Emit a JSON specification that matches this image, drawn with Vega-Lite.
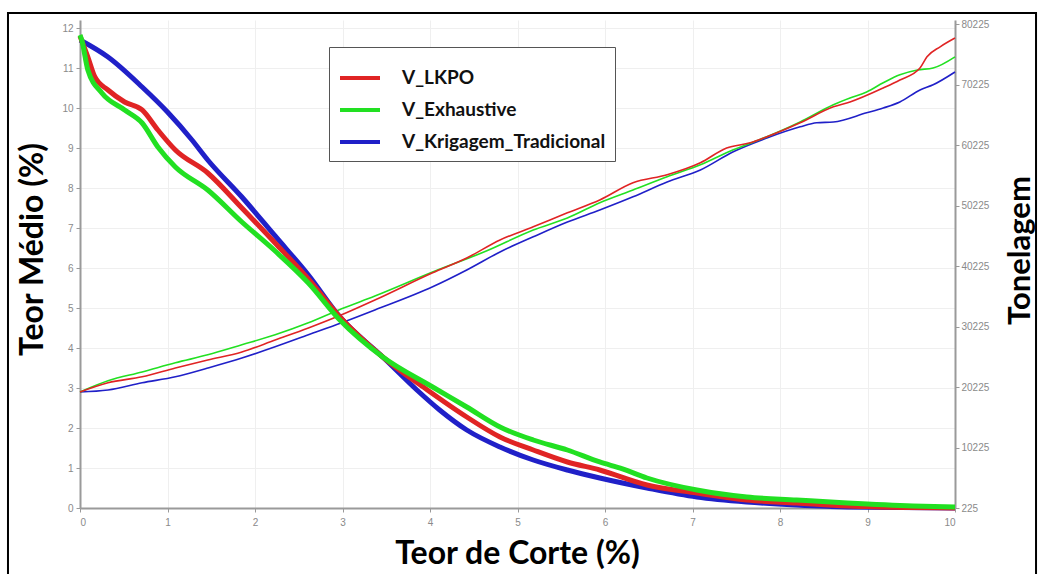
{
  "$schema": "https://vega.github.io/schema/vega-lite/v6.json",
  "width": 875,
  "height": 488,
  "autosize": {"type": "none"},
  "padding": {"left": 80, "top": 20, "right": 84, "bottom": 66},
  "background": "white",
  "config": {
    "view": {"stroke": null},
    "axis": {
      "domainColor": "#9a9a9a",
      "domainWidth": 2,
      "tickColor": "#9a9a9a",
      "tickSize": 4,
      "labelColor": "#8a8a8a",
      "labelFont": "Liberation Sans",
      "labelFontSize": 10,
      "gridColor": "#efefef",
      "gridWidth": 1,
      "titleFont": "Lato",
      "titleFontWeight": "bold",
      "titleColor": "#000000"
    },
    "legend": {
      "orient": "none",
      "legendX": 249,
      "legendY": 27,
      "strokeColor": "#555555",
      "fillColor": "white",
      "padding": 9,
      "symbolType": "stroke",
      "symbolSize": 1600,
      "symbolStrokeWidth": 4,
      "labelFont": "Lato",
      "labelFontWeight": "bold",
      "labelFontSize": 19,
      "labelColor": "#111111",
      "labelOffset": 20,
      "labelLimit": 400,
      "rowPadding": 0,
      "title": null
    }
  },
  "datasets": {
    "teor": [
      {"corte": 0, "serie": "V_Krigagem_Tradicional", "teor": 2.9},
      {"corte": 0.32, "serie": "V_Krigagem_Tradicional", "teor": 2.95},
      {"corte": 0.71, "serie": "V_Krigagem_Tradicional", "teor": 3.13},
      {"corte": 1.09, "serie": "V_Krigagem_Tradicional", "teor": 3.28},
      {"corte": 1.46, "serie": "V_Krigagem_Tradicional", "teor": 3.5},
      {"corte": 1.85, "serie": "V_Krigagem_Tradicional", "teor": 3.75},
      {"corte": 2.23, "serie": "V_Krigagem_Tradicional", "teor": 4.03},
      {"corte": 2.61, "serie": "V_Krigagem_Tradicional", "teor": 4.33},
      {"corte": 2.99, "serie": "V_Krigagem_Tradicional", "teor": 4.63},
      {"corte": 3.37, "serie": "V_Krigagem_Tradicional", "teor": 4.95},
      {"corte": 4.03, "serie": "V_Krigagem_Tradicional", "teor": 5.53},
      {"corte": 4.42, "serie": "V_Krigagem_Tradicional", "teor": 5.95},
      {"corte": 4.8, "serie": "V_Krigagem_Tradicional", "teor": 6.4},
      {"corte": 5.18, "serie": "V_Krigagem_Tradicional", "teor": 6.78},
      {"corte": 5.57, "serie": "V_Krigagem_Tradicional", "teor": 7.15},
      {"corte": 5.94, "serie": "V_Krigagem_Tradicional", "teor": 7.45},
      {"corte": 6.32, "serie": "V_Krigagem_Tradicional", "teor": 7.78},
      {"corte": 6.71, "serie": "V_Krigagem_Tradicional", "teor": 8.15},
      {"corte": 7.09, "serie": "V_Krigagem_Tradicional", "teor": 8.45},
      {"corte": 7.46, "serie": "V_Krigagem_Tradicional", "teor": 8.9},
      {"corte": 7.85, "serie": "V_Krigagem_Tradicional", "teor": 9.25},
      {"corte": 8.23, "serie": "V_Krigagem_Tradicional", "teor": 9.53},
      {"corte": 8.42, "serie": "V_Krigagem_Tradicional", "teor": 9.63},
      {"corte": 8.61, "serie": "V_Krigagem_Tradicional", "teor": 9.65},
      {"corte": 8.99, "serie": "V_Krigagem_Tradicional", "teor": 9.88},
      {"corte": 9.18, "serie": "V_Krigagem_Tradicional", "teor": 10.0},
      {"corte": 9.37, "serie": "V_Krigagem_Tradicional", "teor": 10.15},
      {"corte": 9.6, "serie": "V_Krigagem_Tradicional", "teor": 10.45},
      {"corte": 9.75, "serie": "V_Krigagem_Tradicional", "teor": 10.58},
      {"corte": 10, "serie": "V_Krigagem_Tradicional", "teor": 10.9},
      {"corte": 0, "serie": "V_Exhaustive", "teor": 2.9},
      {"corte": 0.32, "serie": "V_Exhaustive", "teor": 3.18},
      {"corte": 0.71, "serie": "V_Exhaustive", "teor": 3.4},
      {"corte": 1.09, "serie": "V_Exhaustive", "teor": 3.63},
      {"corte": 1.46, "serie": "V_Exhaustive", "teor": 3.83},
      {"corte": 1.85, "serie": "V_Exhaustive", "teor": 4.08},
      {"corte": 2.23, "serie": "V_Exhaustive", "teor": 4.33},
      {"corte": 2.61, "serie": "V_Exhaustive", "teor": 4.63},
      {"corte": 2.99, "serie": "V_Exhaustive", "teor": 4.98},
      {"corte": 3.37, "serie": "V_Exhaustive", "teor": 5.3},
      {"corte": 4.03, "serie": "V_Exhaustive", "teor": 5.9},
      {"corte": 4.65, "serie": "V_Exhaustive", "teor": 6.43},
      {"corte": 5.18, "serie": "V_Exhaustive", "teor": 6.95},
      {"corte": 5.57, "serie": "V_Exhaustive", "teor": 7.25},
      {"corte": 5.94, "serie": "V_Exhaustive", "teor": 7.63},
      {"corte": 6.32, "serie": "V_Exhaustive", "teor": 7.95},
      {"corte": 6.71, "serie": "V_Exhaustive", "teor": 8.28},
      {"corte": 7.09, "serie": "V_Exhaustive", "teor": 8.58},
      {"corte": 7.46, "serie": "V_Exhaustive", "teor": 8.95},
      {"corte": 7.85, "serie": "V_Exhaustive", "teor": 9.28},
      {"corte": 8.23, "serie": "V_Exhaustive", "teor": 9.65},
      {"corte": 8.61, "serie": "V_Exhaustive", "teor": 10.08},
      {"corte": 8.8, "serie": "V_Exhaustive", "teor": 10.25},
      {"corte": 8.99, "serie": "V_Exhaustive", "teor": 10.4},
      {"corte": 9.18, "serie": "V_Exhaustive", "teor": 10.63},
      {"corte": 9.37, "serie": "V_Exhaustive", "teor": 10.83},
      {"corte": 9.57, "serie": "V_Exhaustive", "teor": 10.95},
      {"corte": 9.75, "serie": "V_Exhaustive", "teor": 11.0},
      {"corte": 10, "serie": "V_Exhaustive", "teor": 11.28},
      {"corte": 0, "serie": "V_LKPO", "teor": 2.9},
      {"corte": 0.32, "serie": "V_LKPO", "teor": 3.13},
      {"corte": 0.71, "serie": "V_LKPO", "teor": 3.28},
      {"corte": 1.09, "serie": "V_LKPO", "teor": 3.5},
      {"corte": 1.46, "serie": "V_LKPO", "teor": 3.7},
      {"corte": 1.85, "serie": "V_LKPO", "teor": 3.9},
      {"corte": 2.23, "serie": "V_LKPO", "teor": 4.2},
      {"corte": 2.61, "serie": "V_LKPO", "teor": 4.5},
      {"corte": 2.99, "serie": "V_LKPO", "teor": 4.83},
      {"corte": 3.37, "serie": "V_LKPO", "teor": 5.2},
      {"corte": 4.03, "serie": "V_LKPO", "teor": 5.88},
      {"corte": 4.42, "serie": "V_LKPO", "teor": 6.25},
      {"corte": 4.8, "serie": "V_LKPO", "teor": 6.7},
      {"corte": 5.18, "serie": "V_LKPO", "teor": 7.03},
      {"corte": 5.57, "serie": "V_LKPO", "teor": 7.38},
      {"corte": 5.94, "serie": "V_LKPO", "teor": 7.7},
      {"corte": 6.32, "serie": "V_LKPO", "teor": 8.13},
      {"corte": 6.71, "serie": "V_LKPO", "teor": 8.33},
      {"corte": 7.09, "serie": "V_LKPO", "teor": 8.63},
      {"corte": 7.39, "serie": "V_LKPO", "teor": 9.0},
      {"corte": 7.66, "serie": "V_LKPO", "teor": 9.13},
      {"corte": 7.85, "serie": "V_LKPO", "teor": 9.28},
      {"corte": 8.23, "serie": "V_LKPO", "teor": 9.63},
      {"corte": 8.61, "serie": "V_LKPO", "teor": 10.03},
      {"corte": 8.8, "serie": "V_LKPO", "teor": 10.15},
      {"corte": 9.18, "serie": "V_LKPO", "teor": 10.5},
      {"corte": 9.37, "serie": "V_LKPO", "teor": 10.7},
      {"corte": 9.6, "serie": "V_LKPO", "teor": 11.0},
      {"corte": 9.68, "serie": "V_LKPO", "teor": 11.28},
      {"corte": 9.83, "serie": "V_LKPO", "teor": 11.53},
      {"corte": 10, "serie": "V_LKPO", "teor": 11.75}
    ],
    "tonelagem": [
      {"corte": 0, "serie": "V_Krigagem_Tradicional", "ton": 77585},
      {"corte": 0.32, "serie": "V_Krigagem_Tradicional", "ton": 74775},
      {"corte": 0.71, "serie": "V_Krigagem_Tradicional", "ton": 69816},
      {"corte": 1.0, "serie": "V_Krigagem_Tradicional", "ton": 65680},
      {"corte": 1.28, "serie": "V_Krigagem_Tradicional", "ton": 61055},
      {"corte": 1.46, "serie": "V_Krigagem_Tradicional", "ton": 57749},
      {"corte": 1.85, "serie": "V_Krigagem_Tradicional", "ton": 51633},
      {"corte": 2.23, "serie": "V_Krigagem_Tradicional", "ton": 45187},
      {"corte": 2.61, "serie": "V_Krigagem_Tradicional", "ton": 38740},
      {"corte": 2.97, "serie": "V_Krigagem_Tradicional", "ton": 31797},
      {"corte": 3.46, "serie": "V_Krigagem_Tradicional", "ton": 25185},
      {"corte": 3.85, "serie": "V_Krigagem_Tradicional", "ton": 19730},
      {"corte": 4.11, "serie": "V_Krigagem_Tradicional", "ton": 16424},
      {"corte": 4.42, "serie": "V_Krigagem_Tradicional", "ton": 13118},
      {"corte": 4.8, "serie": "V_Krigagem_Tradicional", "ton": 10308},
      {"corte": 5.18, "serie": "V_Krigagem_Tradicional", "ton": 8159},
      {"corte": 5.57, "serie": "V_Krigagem_Tradicional", "ton": 6506},
      {"corte": 5.94, "serie": "V_Krigagem_Tradicional", "ton": 5184},
      {"corte": 6.48, "serie": "V_Krigagem_Tradicional", "ton": 3531},
      {"corte": 7.05, "serie": "V_Krigagem_Tradicional", "ton": 2043},
      {"corte": 7.62, "serie": "V_Krigagem_Tradicional", "ton": 1217},
      {"corte": 8.19, "serie": "V_Krigagem_Tradicional", "ton": 721},
      {"corte": 8.77, "serie": "V_Krigagem_Tradicional", "ton": 390},
      {"corte": 10, "serie": "V_Krigagem_Tradicional", "ton": 225},
      {"corte": 0, "serie": "V_LKPO", "ton": 78247},
      {"corte": 0.09, "serie": "V_LKPO", "ton": 74775},
      {"corte": 0.17, "serie": "V_LKPO", "ton": 71469},
      {"corte": 0.32, "serie": "V_LKPO", "ton": 69320},
      {"corte": 0.51, "serie": "V_LKPO", "ton": 67337},
      {"corte": 0.71, "serie": "V_LKPO", "ton": 66014},
      {"corte": 0.89, "serie": "V_LKPO", "ton": 62708},
      {"corte": 1.09, "serie": "V_LKPO", "ton": 59402},
      {"corte": 1.46, "serie": "V_LKPO", "ton": 55601},
      {"corte": 1.85, "serie": "V_LKPO", "ton": 49815},
      {"corte": 2.23, "serie": "V_LKPO", "ton": 44030},
      {"corte": 2.61, "serie": "V_LKPO", "ton": 38079},
      {"corte": 2.97, "serie": "V_LKPO", "ton": 31797},
      {"corte": 3.46, "serie": "V_LKPO", "ton": 25185},
      {"corte": 3.97, "serie": "V_LKPO", "ton": 19730},
      {"corte": 4.42, "serie": "V_LKPO", "ton": 15267},
      {"corte": 4.8, "serie": "V_LKPO", "ton": 11961},
      {"corte": 5.18, "serie": "V_LKPO", "ton": 9812},
      {"corte": 5.57, "serie": "V_LKPO", "ton": 7829},
      {"corte": 5.94, "serie": "V_LKPO", "ton": 6506},
      {"corte": 6.48, "serie": "V_LKPO", "ton": 4027},
      {"corte": 7.05, "serie": "V_LKPO", "ton": 2705},
      {"corte": 7.62, "serie": "V_LKPO", "ton": 1547},
      {"corte": 8.19, "serie": "V_LKPO", "ton": 1052},
      {"corte": 8.77, "serie": "V_LKPO", "ton": 556},
      {"corte": 10, "serie": "V_LKPO", "ton": 225},
      {"corte": 0, "serie": "V_Exhaustive", "ton": 78412},
      {"corte": 0.02, "serie": "V_Exhaustive", "ton": 77585},
      {"corte": 0.09, "serie": "V_Exhaustive", "ton": 72626},
      {"corte": 0.25, "serie": "V_Exhaustive", "ton": 68825},
      {"corte": 0.51, "serie": "V_Exhaustive", "ton": 66014},
      {"corte": 0.71, "serie": "V_Exhaustive", "ton": 63866},
      {"corte": 0.89, "serie": "V_Exhaustive", "ton": 59898},
      {"corte": 1.09, "serie": "V_Exhaustive", "ton": 56592},
      {"corte": 1.46, "serie": "V_Exhaustive", "ton": 52790},
      {"corte": 1.85, "serie": "V_Exhaustive", "ton": 47501},
      {"corte": 2.23, "serie": "V_Exhaustive", "ton": 42707},
      {"corte": 2.61, "serie": "V_Exhaustive", "ton": 37418},
      {"corte": 2.97, "serie": "V_Exhaustive", "ton": 31301},
      {"corte": 3.46, "serie": "V_Exhaustive", "ton": 25185},
      {"corte": 4.03, "serie": "V_Exhaustive", "ton": 20226},
      {"corte": 4.42, "serie": "V_Exhaustive", "ton": 16920},
      {"corte": 4.8, "serie": "V_Exhaustive", "ton": 13614},
      {"corte": 5.18, "serie": "V_Exhaustive", "ton": 11465},
      {"corte": 5.57, "serie": "V_Exhaustive", "ton": 9812},
      {"corte": 5.94, "serie": "V_Exhaustive", "ton": 7829},
      {"corte": 6.2, "serie": "V_Exhaustive", "ton": 6700},
      {"corte": 6.48, "serie": "V_Exhaustive", "ton": 5184},
      {"corte": 7.05, "serie": "V_Exhaustive", "ton": 3200},
      {"corte": 7.62, "serie": "V_Exhaustive", "ton": 2043},
      {"corte": 8.19, "serie": "V_Exhaustive", "ton": 1547},
      {"corte": 8.77, "serie": "V_Exhaustive", "ton": 1052},
      {"corte": 9.52, "serie": "V_Exhaustive", "ton": 556},
      {"corte": 10, "serie": "V_Exhaustive", "ton": 390}
    ]
  },
  "layer": [
    {
      "layer": [
        {
          "data": {"name": "teor"},
          "mark": {"type": "line", "strokeWidth": 1.6, "interpolate": "monotone"},
          "encoding": {
            "x": {
              "field": "corte", "type": "quantitative",
              "scale": {"domain": [0, 10], "nice": false, "zero": false},
              "axis": {
                "values": [0, 1, 2, 3, 4, 5, 6, 7, 8, 9, 10],
                "format": "d",
                "grid": true,
                "labelPadding": 5,
                "title": "Teor de Corte (%)",
                "titleFontSize": 32,
                "titleX": 437,
                "titleY": 45,
                "titleAlign": "center",
                "titleBaseline": "middle"
              }
            },
            "y": {
              "field": "teor", "type": "quantitative",
              "scale": {"domain": [0, 12.2], "nice": false, "zero": false},
              "axis": {
                "values": [0, 1, 2, 3, 4, 5, 6, 7, 8, 9, 10, 11, 12],
                "grid": true,
                "labelPadding": 3,
                "title": "Teor Médio (%)",
                "titleFontSize": 32,
                "titleAngle": -90,
                "titleX": -48,
                "titleY": 229,
                "titleAlign": "center",
                "titleBaseline": "middle"
              }
            },
            "color": {
              "field": "serie", "type": "nominal",
              "scale": {"domain": ["V_LKPO", "V_Exhaustive", "V_Krigagem_Tradicional"], "range": ["#e02424", "#22e022", "#2020c8"]}
            }
          }
        },
        {
          "data": {"values": [{}]},
          "mark": {"type": "rect", "fillOpacity": 0, "stroke": "#000000", "strokeWidth": 2, "clip": false},
          "encoding": {
            "x": {"datum": -0.823, "type": "quantitative", "scale": {"domain": [0, 10], "nice": false, "zero": false}, "title": "Teor de Corte (%)"},
            "x2": {"datum": 10.926},
            "y": {"datum": 12.375, "type": "quantitative", "scale": {"domain": [0, 12.2], "nice": false, "zero": false}, "title": "Teor Médio (%)"},
            "y2": {"datum": -2}
          }
        }
      ]
    },
    {
      "data": {"name": "tonelagem"},
      "mark": {"type": "line", "strokeWidth": 5, "interpolate": "monotone"},
      "encoding": {
        "x": {"field": "corte", "type": "quantitative", "scale": {"domain": [0, 10], "nice": false, "zero": false}, "title": "Teor de Corte (%)"},
        "y": {
          "field": "ton", "type": "quantitative",
          "scale": {"domain": [225, 80890], "nice": false, "zero": false},
          "axis": {
            "orient": "right",
            "values": [225, 10225, 20225, 30225, 40225, 50225, 60225, 70225, 80225],
            "format": "d",
            "grid": false,
            "labelPadding": 2,
            "title": "Tonelagem",
            "titleFontSize": 31,
            "titleAngle": -90,
            "titleX": 65,
            "titleY": 230,
            "titleAlign": "center",
            "titleBaseline": "middle"
          }
        },
        "color": {
          "field": "serie", "type": "nominal",
          "scale": {"domain": ["V_LKPO", "V_Exhaustive", "V_Krigagem_Tradicional"], "range": ["#e02424", "#22e022", "#2020c8"]}
        }
      }
    }
  ],
  "resolve": {"scale": {"y": "independent"}}
}
